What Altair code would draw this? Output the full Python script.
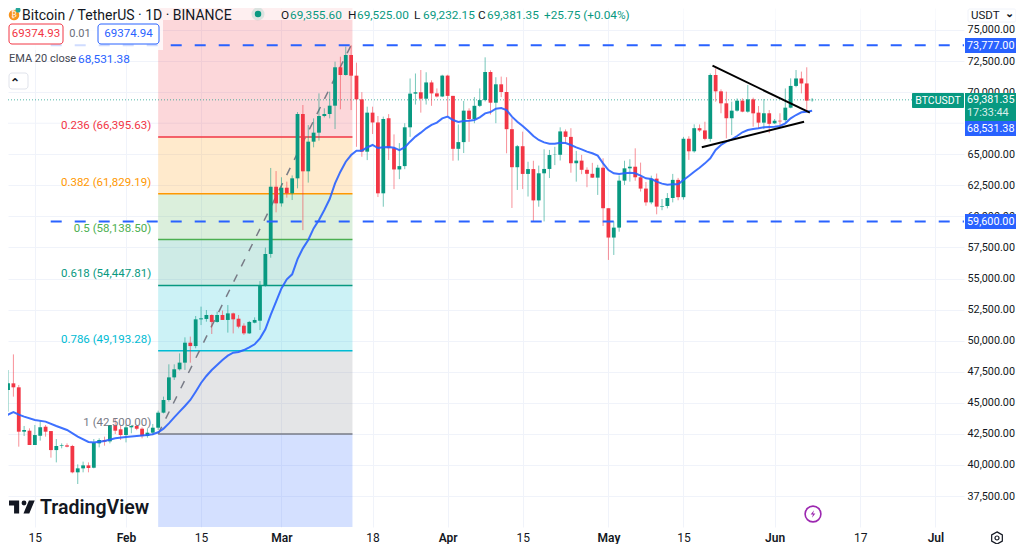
import altair as alt
import pandas as pd

opens = [46840,46035,46570,46250,42680,42760,41610,42360,43080,42730,41200,41530,41580,41530,39410,39730,39970,39780,41740,42010,41900,43220,42870,
 42410,43030,43140,42920,42330,42600,43000,44210,45230,47050,47700,48235,49840,49570,51720,51750,52070,51510,52070,51670,52200,51770,51210,50590,51450,51610,54400,56980,62390,
 61050,62310,61860,63065,68240,63630,66015,66740,68080,68240,68910,72000,71380,72990,71325,69420,65210,68350,67560,61860,67900,65490,63780,64050,67170,69880,69990,69470,70780,69900,69650,
 71330,69700,65440,65980,68510,67840,68900,69360,71620,69150,70630,70010,67020,63960,65650,63420,63810,61290,63470,63820,64940,64960,66840,66400,64280,64490,63750,63430,63120,63920,
 60660,58300,59100,62880,63870,64000,63150,62240,61130,63040,60790,60840,61480,62940,61550,66250,65240,67100,66920,66240,71380,70065,69100,67900,68510,69315,68430,69420,68350,67545,68300,
 67490,67700,67750,68750,70500,71100,70700,69355.6]
highs = [47860,47640,48900,46440,43140,42950,43220,43540,43220,42730,42090,41740,41740,41620,40050,40270,40210,42090,42145,42280,43220,43750,43140,
 43220,43220,43220,43030,42950,43300,44370,45500,48100,48100,48980,50270,50330,51990,52740,52470,52120,52340,52420,52870,52260,52070,51400,51590,51880,54800,57490,63900,63650,
 63150,62800,63300,68400,68965,67350,67890,69900,68700,70040,72450,72850,73660,73777,72370,70000,68830,68830,68080,68030,68230,66600,65900,67500,71100,71500,71780,71600,70950,70300,71400,
 71400,69700,67400,69290,68700,69600,70300,72800,71760,71200,71250,71200,67900,65750,66820,64400,64480,64090,65400,65350,65600,67170,67000,67100,65270,64950,63950,64310,64150,64680,
 60660,59600,63300,64480,64600,65480,64330,62770,63280,63450,61400,61880,63420,63100,66400,66450,67410,67400,67620,71500,71916,70225,70040,69230,69500,69500,70575,69555,68880,69450,68560,
 67840,68300,70300,71110,71780,71650,72000,69525]
lows = [44690,44290,45500,41475,42330,41610,41610,41960,42280,40590,40210,41340,41420,39330,38470,39410,39410,39730,41420,41555,41740,42490,42010,
 41820,42550,42800,42145,42200,42410,42820,44150,45100,46840,47600,47650,48230,49390,51260,51530,50540,51450,51670,50650,50590,51000,50460,50540,51400,50860,54350,56680,60330,
 60790,61510,61320,62260,58900,62720,65560,66100,67970,67890,67030,68620,71330,68560,65600,64800,64530,66630,61560,60780,64540,62200,63000,63800,66400,69000,68350,69000,68900,69570,69600,
 68100,64480,64500,65100,66000,67500,68800,69250,68200,67500,69600,65080,60680,62130,62200,61600,59580,60780,59600,63090,64130,64500,65830,63520,62800,63400,62350,63100,61730,59230,
 56500,56900,58770,62530,62800,62870,62000,60860,60980,60170,60500,60650,61130,61300,61350,64550,65130,66800,66120,66015,69230,68300,66280,66550,68430,68380,68350,67220,67090,67030,66700,
 67440,67220,67625,68700,70390,69900,68430,69232.15]
closes = [46035,46570,46250,42680,42815,41610,42410,43030,42680,41200,41530,41580,41475,39410,39730,39970,39760,41800,42010,41880,43220,42760,42410,
 43030,43140,42920,42330,42600,43000,44210,45230,47050,47700,48235,49840,49570,51720,51800,52070,51510,52070,51670,52200,51720,51130,50590,51510,51670,54400,56980,62390,61050,
 62310,61860,63065,68240,63630,66015,66740,68080,68240,68910,72000,71380,72990,71325,69420,65210,68350,67560,61860,67840,65490,63780,64050,67170,69880,69990,69470,70780,69900,69650,71330,
 69700,65440,65980,68510,67840,68900,69360,71620,69150,70630,70010,67020,63960,65650,63420,63810,61290,63470,63820,64940,64960,66840,66400,64280,64490,63750,63430,63120,63920,60660,
 58300,59100,62880,63870,64000,63150,62240,61130,63040,60790,60840,61480,62940,61550,66250,65240,67100,66920,66240,71380,70065,69100,67900,68510,69315,68430,69420,68295,67545,68300,67450,
 67700,67650,68750,70500,71100,70700,69315,69381.35]

ema_dates = ["01-09","01-10","01-11","01-12","01-13","01-15","01-17","01-19","01-21","01-23","01-25","01-26","01-28","01-30",
 "02-01","02-03","02-05","02-06","02-07","02-08","02-09","02-10","02-11","02-12","02-13","02-14","02-15","02-16","02-17","02-18","02-19","02-20","02-21","02-22","02-23","02-24","02-25","02-26","02-27","02-28","02-29",
 "03-01","03-02","03-03","03-04","03-05","03-06","03-07","03-08","03-09","03-10","03-11","03-12","03-13","03-14","03-15","03-16","03-17","03-18","03-19","03-20","03-21","03-22","03-23","03-24","03-25","03-26","03-27","03-28","03-29","03-30","03-31",
 "04-01","04-02","04-03","04-04","04-05","04-06","04-07","04-08","04-09","04-10","04-11","04-12","04-13","04-14","04-15","04-16","04-17","04-18","04-19","04-20","04-21","04-22","04-23","04-24","04-25","04-26","04-27","04-28","04-29","04-30",
 "05-01","05-02","05-03","05-04","05-05","05-06","05-07","05-08","05-09","05-10","05-11","05-12","05-13","05-14","05-15","05-16","05-17","05-18","05-19","05-20","05-21","05-22","05-23","05-24","05-25","05-26","05-27","05-28","05-29","05-30","05-31",
 "06-01","06-02","06-03","06-04","06-05","06-06","06-07","06-08"]
ema_vals = [43620,44050,44260,44050,43890,43620,43490,43140,42820,42280,41850,41820,41930,42145,
 42250,42330,42410,42470,42630,42920,43350,43835,44290,44750,45230,45900,46600,47160,47640,48050,48450,48800,49040,49090,49250,49470,49710,50190,50915,52070,53140,
 54210,54940,55340,56570,57430,58100,59040,59710,60520,61400,62660,63600,64400,64940,65290,65290,65560,65750,65500,65560,65590,65530,65340,65560,66015,66420,66740,67090,67360,67550,67890,
 68030,67760,67600,67680,67700,67760,67970,68290,68400,68670,68720,68560,68030,67620,67275,66900,66470,66150,65960,65850,65850,65930,65910,65750,65560,65400,65210,65080,64890,64270,
 63735,63470,63410,63470,63520,63470,63280,63065,63010,62800,62640,62555,62580,62580,62930,63250,63600,63920,64270,64675,65345,65750,66020,66200,66470,66770,66950,67030,67090,67170,67195,
 67220,67280,67490,67890,68160,68375,68430,68510]

fib_names = ["0.236","0.382","0.5","0.618","0.786","1"]
fib_prices = [66395.63,61829.19,58138.50,54447.81,49193.28,42500.00]
fib_fill = ["#F23645","#FF9800","#4CAF50","#089981","#00BCD4","#787B86","#2962FF"]
price_ticks = [75000,72500,70000,65000,62500,60000,57500,55000,52500,50000,47500,45000,42500,40000,37500]
hidden_grid = [67500]

F = "Roboto"
INK = "#131722"
GREEN = "#089981"
RED = "#F23645"
BLUE = "#2962FF"
GRID = "#F0F3FA"
PLOT_W, PLOT_H = 956, 519
x_dom = ["2024-01-09T23:45:00", "2024-07-06T08:00:00"]
y_dom = [35011, 76770]
fib_start, fib_end = "2024-02-07T00:00:00", "2024-03-14T06:00:00"
ONE = alt.Data(values=[{"a": 1}])

candle_days = pd.date_range("2024-01-09", periods=len(opens), freq="D")
df = pd.DataFrame({"date": candle_days.strftime("%Y-%m-%dT00:00:00"), "o": opens, "h": highs, "l": lows, "c": closes})
df["dir"] = ["up" if c >= o else "down" for o, c in zip(opens, closes)]
ema = pd.DataFrame({"date": ["2024-" + d + "T00:00:00" for d in ema_dates], "v": ema_vals})

def dt(m, d):
    return alt.DateTime(year=2024, month=m, date=d)

x_axis = alt.Axis(
    title=None, values=[dt("jan", 15), dt("feb", 1), dt("feb", 15), dt("mar", 1), dt("mar", 18), dt("apr", 1),
                        dt("apr", 15), dt("may", 1), dt("may", 15), dt("jun", 1), dt("jun", 17), dt("jul", 1)],
    labelExpr="date(datum.value)==1 ? timeFormat(datum.value,'%b') : timeFormat(datum.value,'%-d')",
    labelFontWeight={"condition": {"test": "date(datum.value)==1", "value": 600}, "value": 400},
    grid=True, gridColor=GRID, gridWidth=1, domain=False, ticks=False, labelPadding=5,
    labelFont=F, labelFontSize=12, labelColor=INK, labelOverlap=False, labelFlush=False)
y_axis = alt.Axis(
    title=None, orient="right", values=price_ticks, format=",.2f", grid=True, gridColor=GRID, gridWidth=1,
    domain=False, ticks=False, labelPadding=3, labelFont=F, labelFontSize=10.8, labelColor=INK, labelOverlap=False)
xs = alt.Scale(domain=x_dom, padding=0)
ys = alt.Scale(domain=y_dom, nice=False, zero=False, padding=0)

def X(f="date"):
    return alt.X(f + ":T", scale=xs, axis=x_axis)

def Y(f):
    return alt.Y(f + ":Q", scale=ys, axis=y_axis)

layers = []

# grid line whose label is hidden behind the price tags
hg = pd.DataFrame({"s": [x_dom[0]], "e": [x_dom[1]], "p": hidden_grid})
layers.append(alt.Chart(hg).mark_rule(color=GRID, strokeWidth=1).encode(x=X("s"), x2="e:T", y=Y("p")))

# Fibonacci bands
edges = [y_dom[1]] + fib_prices + [y_dom[0]]
band = pd.DataFrame({"s": [fib_start] * 7, "e": [fib_end] * 7, "top": edges[:-1], "bot": edges[1:], "fill": fib_fill})
layers.append(alt.Chart(band).mark_rect(opacity=0.2).encode(
    x=X("s"), x2="e:T", y=Y("top"), y2="bot:Q", color=alt.Color("fill:N", scale=None)))
lev = pd.DataFrame({"s": [fib_start] * 6, "e": [fib_end] * 6, "p": fib_prices, "fill": fib_fill[:6],
                    "t": [f"{n} ({p:,.2f})" for n, p in zip(fib_names, fib_prices)]})
layers.append(alt.Chart(lev).mark_rule(strokeWidth=1.5).encode(
    x=X("s"), x2="e:T", y=Y("p"), color=alt.Color("fill:N", scale=None)))

# fib diagonal
diag = pd.DataFrame({"date": [fib_start, "2024-03-14T00:00:00"], "v": [42500, 73777]})
layers.append(alt.Chart(diag).mark_line(color="#787B86", strokeWidth=1.5, strokeDash=[8, 9], clip=True).encode(x=X(), y=Y("v")))

# last-price line
pl = pd.DataFrame({"s": [x_dom[0]], "e": [x_dom[1]], "p": [69381.35]})
layers.append(alt.Chart(pl).mark_rule(color=GREEN, strokeWidth=1, strokeDash=[1, 2], opacity=0.7).encode(
    x=X("s"), x2="e:T", y=Y("p")))

# candles
updown = alt.Color("dir:N", scale=alt.Scale(domain=["up", "down"], range=[GREEN, RED]), legend=None)
layers.append(alt.Chart(df).mark_rule(strokeWidth=1, opacity=0.55, clip=True).encode(
    x=X(), y=Y("l"), y2="h:Q", color=updown))
layers.append(alt.Chart(df).mark_bar(size=3.8, clip=True).encode(
    x=X(), y=Y("o"), y2="c:Q", color=updown))

# EMA
layers.append(alt.Chart(ema).mark_line(color=BLUE, strokeWidth=2, clip=True, opacity=0.9).encode(x=X(), y=Y("v")))

# horizontal rays
rays = pd.DataFrame({"s": ["2024-01-17T23:00:00"] * 2, "e": [x_dom[1]] * 2, "p": [73777, 59600]})
layers.append(alt.Chart(rays).mark_rule(color=BLUE, strokeWidth=2, strokeDash=[11, 13]).encode(
    x=X("s"), x2="e:T", y=Y("p")))

# trend lines
up_line = pd.DataFrame({"date": ["2024-05-20T10:00:00", "2024-06-07T14:00:00"], "v": [72130, 68350]})
lo_line = pd.DataFrame({"date": ["2024-05-18T10:00:00", "2024-06-06T12:00:00"], "v": [65560, 67625]})
for d in (up_line, lo_line):
    layers.append(alt.Chart(d).mark_line(color="#000000", strokeWidth=2).encode(x=X(), y=Y("v")))

# fib labels
for _, r in lev.iterrows():
    layers.append(alt.Chart(lev[lev.p == r.p]).mark_text(
        align="right", dx=-7, dy=-11, baseline="middle", font=F, fontSize=11.5, color=r.fill).encode(
        x=X("s"), y=Y("p"), text="t:N"))


def T(s, x, y, color=INK, size=12, align="left", weight=400, opacity=1):
    return alt.Chart(ONE).mark_text(text=s, align=align, baseline="middle", color=color, fontSize=size,
                                    fontWeight=weight, font=F, opacity=opacity).encode(
        x=alt.value(x - 8), y=alt.value(y - 8))


def R(x0, y0, x1, y1, fill="#FFFFFF", stroke=None, radius=0, opacity=1):
    kw = dict(fill=fill, cornerRadius=radius, opacity=opacity)
    if stroke:
        kw.update(stroke=stroke, strokeWidth=1)
    return alt.Chart(ONE).mark_rect(**kw).encode(
        x=alt.value(x0 - 8), x2=alt.value(x1 - 8), y=alt.value(y0 - 8), y2=alt.value(y1 - 8))


def S(shape, x, y, size, fill=None, stroke=None, sw=1.5, opacity=1):
    kw = dict(shape=shape, size=size, filled=bool(fill), opacity=opacity)
    if fill:
        kw["fill"] = fill
    if stroke:
        kw.update(stroke=stroke, strokeWidth=sw)
    else:
        kw["strokeWidth"] = 0
    return alt.Chart(ONE).mark_point(**kw).encode(x=alt.value(x - 8), y=alt.value(y - 8))


# header / legend chrome
layers += [
    R(8, 8, 964, 20, opacity=0.6),
    R(8, 20, 163, 50, opacity=0.78),
    S("circle", 14, 15, 110, fill="#F7931A"),
    S("circle", 18, 10, 26, fill="#26A69A"),
    T("₿", 14, 15, "#FFFFFF", 8, "center"),
    T("Bitcoin / TetherUS · 1D · BINANCE", 22, 16, INK, 14),
    S("circle", 258, 14, 170, fill=GREEN, opacity=0.14),
    S("circle", 258, 14, 42, fill=GREEN),
    T("O", 281, 15, INK, 11.8), T("69,355.60", 290, 15, GREEN, 11.8),
    T("H", 348, 15, INK, 11.8), T("69,525.00", 357, 15, GREEN, 11.8),
    T("L", 414, 15, INK, 11.8), T("69,232.15", 423, 15, GREEN, 11.8),
    T("C", 478, 15, INK, 11.8), T("69,381.35", 487, 15, GREEN, 11.8),
    T("+25.75 (+0.04%)", 544, 15, GREEN, 11.8),
    R(9, 24, 63, 44, stroke=RED, radius=3), T("69374.93", 36, 34, RED, 11.5, "center"),
    T("0.01", 80, 34, "#6A6D78", 11, "center"),
    R(98, 24, 159, 44, stroke=BLUE, radius=3), T("69374.94", 128.5, 34, BLUE, 11.5, "center"),
    T("EMA 20 close", 9, 59, "#434651", 11), T("68,531.38", 78, 59, BLUE, 11.8),
    R(9, 73, 28, 89, stroke="#E0E3EB", radius=3),
    T("⌃", 15, 83, INK, 12, "center", 600),
]

# right-hand price tags
layers += [
    R(912, 93, 964, 108, fill=GREEN, radius=1), T("BTCUSDT", 938, 100.5, "#FFFFFF", 10.5, "center"),
    R(965, 93, 1016, 121, fill=GREEN), T("69,381.35", 967, 100, "#FFFFFF", 10.8),
    T("17:33:44", 967, 113, "#FFFFFF", 10.8, opacity=0.85),
    R(965, 121, 1016, 136, fill=BLUE), T("68,531.38", 967, 128.5, "#FFFFFF", 10.8),
    R(965, 38, 1016, 53, fill=BLUE), T("73,777.00", 967, 45.5, "#FFFFFF", 10.8),
    R(965, 214, 1016, 229, fill=BLUE), T("59,600.00", 967, 221.5, "#FFFFFF", 10.8),
    R(968, 9, 1016, 22, stroke="#F0F3FA", radius=2),
    T("USDT", 971, 15.5, INK, 11.5), T("⌄", 1009, 14, INK, 11, "center", 600),
]

# logo, icons
logo = "M14 22H7V11H0V4h14v18zM28 22h-8l7.5-18h8L28 22z"
layers += [
    S(logo, 9, 497.5, 2.1, fill=INK),
    S("circle", 24, 503, 24, fill=INK),
    T("TradingView", 40, 508, INK, 19.5, "left", 600),
    S("circle", 813, 514, 250, stroke="#9C27B0", sw=1.6),
    S("M0.2,-0.7 L-0.45,0.1 L0,0.1 L-0.2,0.7 L0.45,-0.1 L0,-0.1 Z", 813, 514, 110, fill="#9C27B0"),
    S("M0,-1 L0.87,-0.5 L0.87,0.5 L0,1 L-0.87,0.5 L-0.87,-0.5 Z", 997, 538, 150, stroke=INK, sw=1.2),
    S("circle", 997, 538, 16, stroke=INK, sw=1.2),
]

chart = alt.layer(*layers).properties(
    width=PLOT_W, height=PLOT_H,
    padding={"left": 0, "top": 0, "right": 52, "bottom": 17},
    autosize=alt.AutoSizeParams(type="none"),
    background="#FFFFFF",
).configure_view(stroke=None)

chart.save("out.html", embed_options={"renderer": "svg", "actions": False})
